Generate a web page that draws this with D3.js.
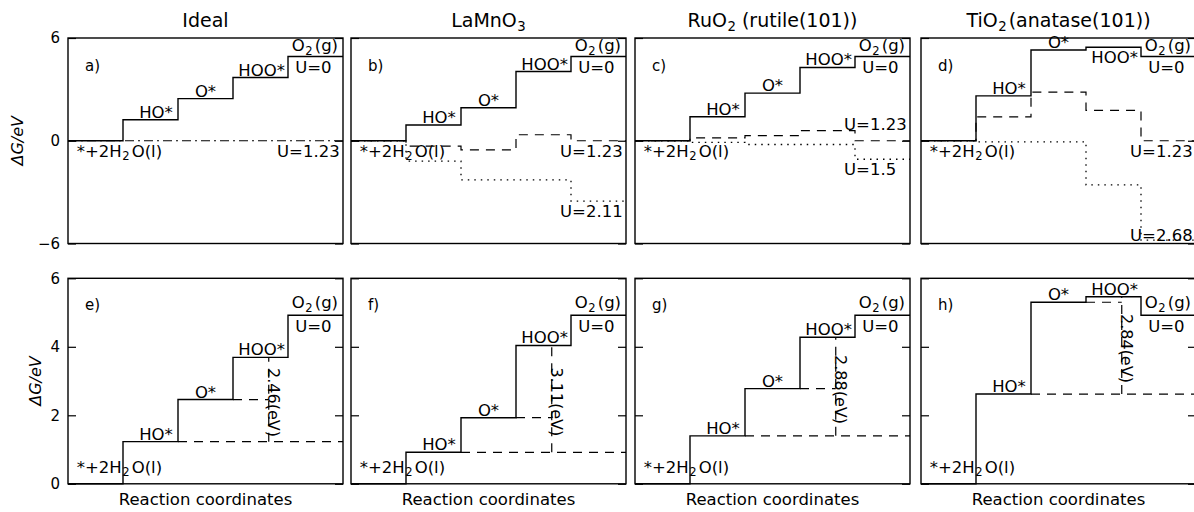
<!DOCTYPE html>
<html>
<head>
<meta charset="utf-8">
<script src="https://cdn.jsdelivr.net/npm/d3@7"></script>
<style>
  body { margin: 0; background: #fff; }
  text { font-family: "DejaVu Sans", sans-serif; fill: #000; }
</style>
</head>
<body>
<svg id="chart" width="1194" height="512"></svg>
<script>
// free energy levels (eV) for * -> HO* -> O* -> HOO* -> O2, at U = 0
const titles = ["Ideal", "LaMnO_3", "RuO_2 (rutile(101))", "TiO_2(anatase(101))"]
const tagsTop = ["a)", "b)", "c)", "d)"]
const tagsBottom = ["e)", "f)", "g)", "h)"]
const speciesLabels = ["HO*", "O*", "HOO*"]

const idealG = [0, 1.23, 2.46, 3.69, 4.92]
const lamno3G = [0, 0.92, 1.93, 4.04, 4.92]
const ruo2G = [0, 1.40, 2.78, 4.28, 4.92]
const tio2G = [0, 2.62, 5.30, 5.46, 4.92]

// levels at U = 1.23 V (dashed / dash-dot)
const idealAt123 = [0, 0, 0, 0, 0]
const lamno3At123 = [0, -0.31, -0.53, 0.35, 0]
const ruo2At123 = [0, 0.17, 0.30, 0.59, 0]
const tio2At123 = [0, 1.39, 2.84, 1.77, 0]

// levels at the limiting potential (dotted)
const limitU = [null, "2.11", "1.5", "2.68"]
const lamno3AtLim = [0, -1.19, -2.29, -2.29, -3.52]
const ruo2AtLim = [0, -0.10, -0.22, -0.22, -1.08]
const tio2AtLim = [0, -0.06, -0.06, -2.58, -5.80]

// largest gap HO* -> HOO* (bottom row)
const gapLabels = ["2.46", "3.11", "2.88", "2.84"]

const topTicks = [-6, 0, 6]
const bottomTicks = [0, 2, 4, 6]

const levelsAll = [idealG, lamno3G, ruo2G, tio2G]
const at123All = [idealAt123, lamno3At123, ruo2At123, tio2At123]
const atLimAll = [null, lamno3AtLim, ruo2AtLim, tio2AtLim]

// layout
const colLeft = [68, 351, 635, 921]
const panelW = 275
const rowTop = [38, 278.3]
const panelH = 205.5
const labelSize = 16.5
const tickSize = 15

// where the U labels sit (data y of baseline) in the top row
const u123LabelY = [-0.93, -0.93, 0.63, -0.93]
const uLimLabelY = [null, -4.44, -2.0, -5.85]

const svg = d3.select("#chart")

const x = d3.scaleLinear().domain([0, 5]).range([0, panelW])
const yTop = d3.scaleLinear().domain([-6, 6]).range([panelH, 0])
const yBot = d3.scaleLinear().domain([0, 6]).range([panelH, 0])

const stepPts = levels => levels.map((v, i) => [i, v]).concat([[levels.length, levels[levels.length - 1]]])
const stepLine = y => d3.line().x(d => x(d[0])).y(d => y(d[1])).curve(d3.curveStepAfter)
const plainLine = y => d3.line().x(d => x(d[0])).y(d => y(d[1]))

// text with "_c" subscripts
function rich(g, px, py, str, size, anchor, gap) {
    const t = g.append("text").attr("x", px).attr("y", py)
        .attr("font-size", size).attr("text-anchor", anchor || "start")
    const parts = str.split(/_(\w)/)
    parts.forEach((p, i) => {
        if (p === "") return
        const ts = t.append("tspan").text(p)
        if (i % 2 === 1) ts.attr("font-size", size * 0.7).attr("dy", size * 0.22).attr("dx", 0.5)
        else if (i > 0) ts.attr("dy", -size * 0.22).attr("dx", gap === undefined ? 2 : gap)
    })
    return t
}

function drawAxes(g, y, ticks, showLabels) {
    const left = g.append("g").call(d3.axisLeft(y).tickValues(ticks).tickFormat(d3.format("d"))
        .tickSizeInner(-8).tickSizeOuter(0).tickPadding(8))
    left.select(".domain").remove()
    left.selectAll("line").attr("stroke", "#000").attr("stroke-width", 1.2)
    left.selectAll("text").attr("font-size", tickSize).attr("font-family", "DejaVu Sans").attr("fill", "#000")
    if (!showLabels) left.selectAll("text").remove()

    const right = g.append("g").attr("transform", `translate(${panelW},0)`)
        .call(d3.axisRight(y).tickValues(ticks).tickSizeInner(-8).tickSizeOuter(0).tickFormat(""))
    right.select(".domain").remove()
    right.selectAll("line").attr("stroke", "#000").attr("stroke-width", 1.2)

    g.append("rect").attr("width", panelW).attr("height", panelH)
        .attr("fill", "none").attr("stroke", "#000").attr("stroke-width", 1.4)
}

function speciesText(g, y, G, row, col) {
    const centers = [1.6, 2.5, 3.52]
    speciesLabels.forEach((lab, k) => {
        let py = y(G[k + 1]) - 2
        if (row === 0 && col === 3 && k === 2) py = y(G[k + 1]) + 16
        g.append("text").attr("x", x(centers[k])).attr("y", py)
            .attr("text-anchor", "middle").attr("font-size", labelSize).text(lab)
    })
    rich(g, x(4.07), y(G[4] + 0.1) - 3.5, "O_2(g)", labelSize)
    g.append("text").attr("x", x(4.13)).attr("y", y(G[4]) + 16.5)
        .attr("font-size", labelSize).text("U=0")
}

// top row: diagrams at U = 0, 1.23 and limiting potential
levelsAll.forEach((G, col) => {
    const g = svg.append("g").attr("transform", `translate(${colLeft[col]},${rowTop[0]})`)
    drawAxes(g, yTop, topTicks, col === 0)

    g.append("path").attr("d", stepLine(yTop)(stepPts(at123All[col])))
        .attr("fill", "none").attr("stroke", "#000").attr("stroke-width", 1.2)
        .attr("stroke-dasharray", col === 0 ? "9,4,2,4" : "9,7")
    if (atLimAll[col]) {
        g.append("path").attr("d", stepLine(yTop)(stepPts(atLimAll[col])))
            .attr("fill", "none").attr("stroke", "#000").attr("stroke-width", 1.3)
            .attr("stroke-dasharray", "1.5,5")
    }
    g.append("path").attr("d", stepLine(yTop)(stepPts(G)))
        .attr("fill", "none").attr("stroke", "#000").attr("stroke-width", 1.4)

    g.append("text").attr("x", 17).attr("y", 33).attr("font-size", tickSize).text(tagsTop[col])
    rich(g, x(0.16), yTop(0) + 16, "*+2H_2O(l)", labelSize)
    speciesText(g, yTop, G, 0, col)
    g.append("text").attr("x", x(3.8)).attr("y", yTop(u123LabelY[col]))
        .attr("font-size", labelSize).text("U=1.23")
    if (limitU[col]) {
        g.append("text").attr("x", x(3.8)).attr("y", yTop(uLimLabelY[col]))
            .attr("font-size", labelSize).text("U=" + limitU[col])
    }

    rich(g, panelW / 2, -11, titles[col], 19, "middle", col === 2 ? 0 : 2)
})

// bottom row: largest gap between HO* and HOO*
levelsAll.forEach((G, col) => {
    const g = svg.append("g").attr("transform", `translate(${colLeft[col]},${rowTop[1]})`)
    drawAxes(g, yBot, bottomTicks, col === 0)

    const xm = 3.65
    const dashed = [
        [[2, G[1]], [5, G[1]]],
        [[3, G[2]], [xm, G[2]]],
        [[xm, G[1]], [xm, G[3]]]
    ]
    dashed.forEach(seg => {
        g.append("path").attr("d", plainLine(yBot)(seg))
            .attr("fill", "none").attr("stroke", "#000").attr("stroke-width", 1.2)
            .attr("stroke-dasharray", "9,7")
    })
    g.append("path").attr("d", stepLine(yBot)(stepPts(G)))
        .attr("fill", "none").attr("stroke", "#000").attr("stroke-width", 1.4)

    g.append("text").attr("x", 17).attr("y", 32).attr("font-size", tickSize).text(tagsBottom[col])
    rich(g, x(0.16), yBot(0) - 11, "*+2H_2O(l)", labelSize)
    speciesText(g, yBot, G, 1, col)

    const mid = (G[1] + G[3]) / 2
    g.append("text")
        .attr("transform", `translate(${x(xm) - 0.5},${yBot(mid) + 3}) rotate(90)`)
        .attr("text-anchor", "middle").attr("font-size", 16).text(gapLabels[col] + "(eV)")

    g.append("text").attr("x", panelW / 2).attr("y", panelH + 21)
        .attr("text-anchor", "middle").attr("font-size", labelSize).text("Reaction coordinates")
})

// y labels
const yLabelX = [23, 41]
rowTop.forEach((top, r) => {
    svg.append("text")
        .attr("transform", `translate(${yLabelX[r]},${top + panelH / 2}) rotate(-90)`)
        .attr("text-anchor", "middle").attr("font-size", 16).attr("font-style", "italic")
        .text("ΔG/eV")
})
</script>
</body>
</html>
